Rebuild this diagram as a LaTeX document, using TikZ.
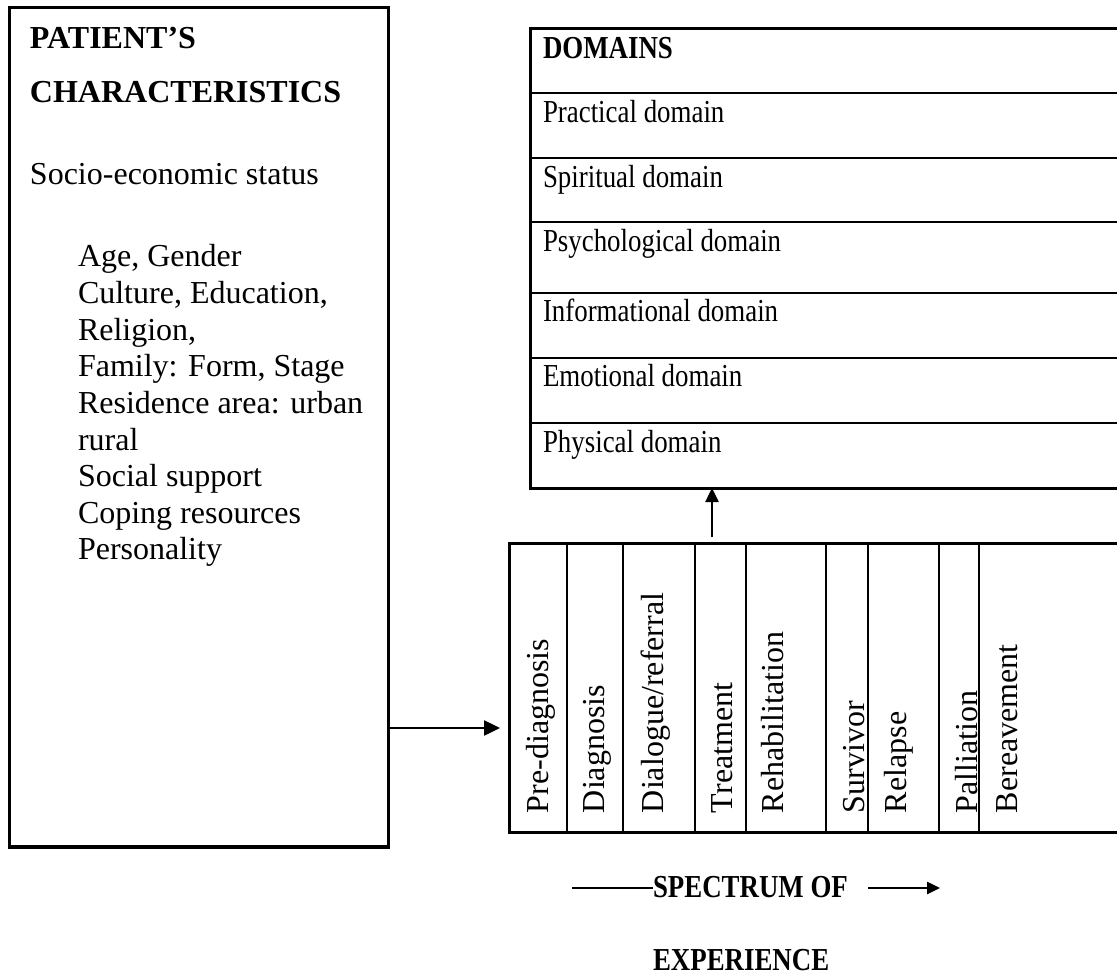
\documentclass[tikz,border=0pt]{standalone}
\usepackage{fontspec}
\setmainfont{Liberation Serif}
\usetikzlibrary{arrows.meta}
\tikzset{
 box/.style={draw, line width=3pt, inner sep=0pt, outer sep=0pt, anchor=north west},
 lbl/.style={anchor=base west, inner sep=0pt, outer sep=0pt, font=\fontsize{32}{37}\selectfont},
 vlbl/.style={lbl, rotate=90},
 arr/.style={line width=2.5pt, -{Triangle[length=16pt,width=15pt]}},
 sarr/.style={line width=2.5pt, -{Triangle[length=14pt,width=13pt]}},
 ln/.style={line width=2.8pt},
}
\newcommand{\nrw}[1]{\scalebox{0.84}[1]{#1}}
\begin{document}
\begin{tikzpicture}[x=1pt,y=-1pt]
\useasboundingbox (0,0) rectangle (1117,976);
\clip (0,0) rectangle (1117,976);

% Patient's characteristics box
\node[box, minimum width=379pt, minimum height=839pt] (left) at (9,8) {};
\draw[line width=4.5pt] (left.south west) -- (left.south east);
\node[lbl] (h1) at (30,49) {\textbf{PATIENT'S}};
\node[lbl] (h2) at (30,103) {\textbf{CHARACTERISTICS}};
\node[lbl] (ses) at (30,185) {Socio-economic status};
\foreach \t [count=\i] in {{Age, Gender},{Culture, Education,},{Religion,},{Family: Form, Stage},{Residence area: urban},{rural},{Social support},{Coping resources},{Personality}}
  \node[lbl] (c\i) at (78,{267+36.6*(\i-1)}) {\t};

% Domains box
\node[box, minimum width=640pt, minimum height=459pt] (dom) at (530,29) {};
\foreach \y in {93,158,222,293,358,423}
  \draw[ln] (530,\y) -- (1180,\y);
\node[lbl] (dh) at (543,59) {\nrw{\textbf{DOMAINS}}};
\node[lbl] (d1) at (543,123) {\nrw{Practical domain}};
\node[lbl] (d2) at (543,188) {\nrw{Spiritual domain}};
\node[lbl] (d3) at (543,252) {\nrw{Psychological domain}};
\node[lbl] (d4) at (543,322) {\nrw{Informational domain}};
\node[lbl] (d5) at (543,387) {\nrw{Emotional domain}};
\node[lbl] (d6) at (543,452) {\nrw{Physical domain}};

% Spectrum box
\node[box, minimum width=660pt, minimum height=289pt] (spec) at (509,543) {};
\foreach \x in {567,623,695,746,826,868,939,979}
  \draw[ln] (\x,543) -- (\x,832);
\foreach \x/\t [count=\i] in {548/Pre-diagnosis,604/Diagnosis,663/Dialogue\slash referral,732/Treatment,783/Rehabilitation,864/Survivor,906/Relapse,977/Palliation,1017/Bereavement}
  \node[vlbl] (s\i) at (\x,813) {\t};

% connectors
\coordinate (lt) at (500,728);
\draw[arr] (lt -| left.east) -- (lt);
\coordinate (up) at (712,537);
\draw[sarr] (up) -- (up |- dom.south);

% bottom label
\node[lbl] (spl) at (653,897) {\nrw{\textbf{SPECTRUM OF}}};
\node[lbl] (exp) at (653,970) {\nrw{\textbf{EXPERIENCE}}};
\coordinate (sl) at (572,888);
\draw[line width=2pt] (sl) -- (sl -| spl.west);
\coordinate (sa) at (868,888);
\coordinate (sb) at (940,888);
\draw[line width=2.5pt, -{Triangle[length=13pt,width=12pt]}] (sa) -- (sb);
\end{tikzpicture}
\end{document}
